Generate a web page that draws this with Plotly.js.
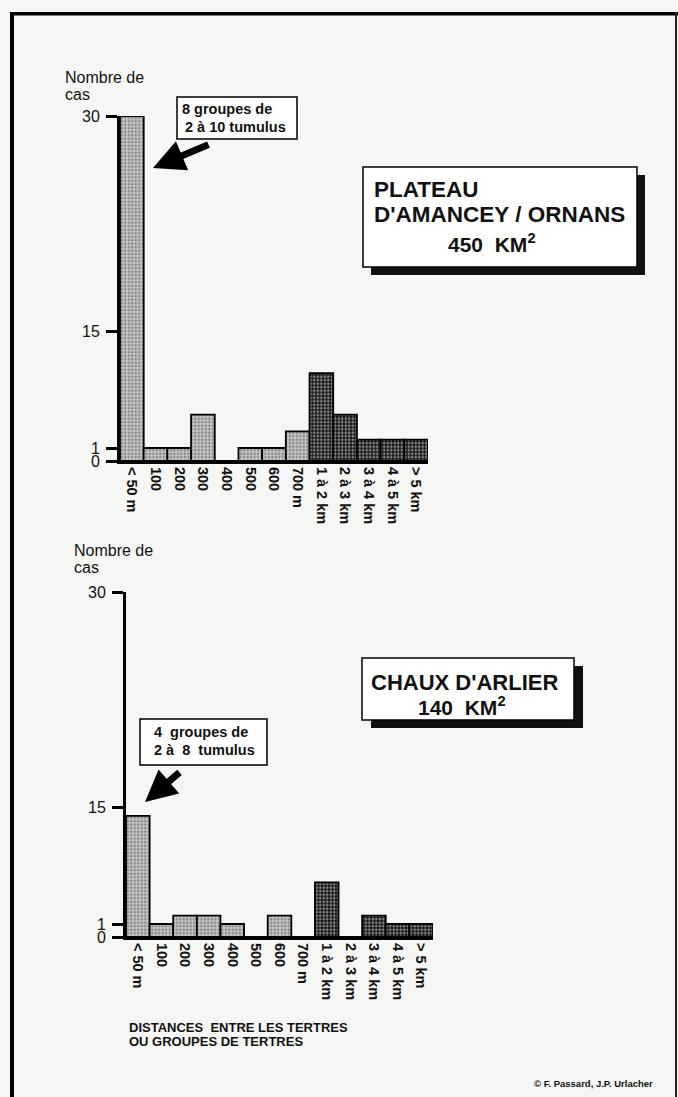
<!DOCTYPE html>
<html>
<head>
<meta charset="utf-8">
<script src="https://cdn.plot.ly/plotly-3.0.1.min.js"></script>
<style>html,body{margin:0;padding:0;background:#f6f6f4;}#chart{width:678px;height:1097px;}</style>
</head>
<body>
<div id="chart"></div>
<script>
// ---- data ----
const categories = ['< 50 m','100','200','300','400','500','600','700 m','1 à 2 km','2 à 3 km','3 à 4 km','4 à 5 km','> 5 km'];
const distanceUnit = ['m','m','m','m','m','m','m','m','km','km','km','km','km'];
const amanceyCounts = [30, 1, 1, 5, 0, 1, 1, 3, 10, 5, 2, 2, 2];
const chauxCounts   = [14, 1, 2, 2, 1, 0, 2, 0, 6, 0, 2, 1, 1];
const yTickValues = [0, 1, 15, 30];
const yTickLabels = ['0', '1', '15', '30'];

// ---- the original hand-drawn, broken y scale (0-1, 1-15, 15-30 drawn at different steps) ----
function scaleY(v){
  if (v <= 1) return 13 * v;
  if (v <= 15) return 13 + (v - 1) * 116.5 / 14;
  return 129.5 + (v - 15) * 215.5 / 15;
}
const yMax = scaleY(30);

const W = 678, H = 1097;
const px = x => x / W;
const py = y => 1 - y / H;
const F = 'Liberation Sans, Arial, Helvetica, sans-serif';

const lightBg = '#c6c6c6', lightFg = '#4a4a4a';
const darkBg = '#1a1a1a', darkFg = '#858585';

function barTrace(counts, xa, ya){
  return {
    type: 'bar',
    x: categories,
    y: counts.map(scaleY),
    customdata: counts,
    xaxis: xa, yaxis: ya,
    marker: {
      color: distanceUnit.map(u => u === 'm' ? lightBg : darkBg),
      line: {color: '#000', width: 1.8},
      pattern: {
        shape: '.',
        fillmode: 'overlay',
        fgcolor: distanceUnit.map(u => u === 'm' ? lightFg : darkFg),
        size: 3.5,
        solidity: 0.4
      }
    },
    hovertemplate: '%{x}: %{customdata}<extra></extra>',
    showlegend: false
  };
}

function xAxis(domain, anchor){
  return {
    domain: domain, anchor: anchor, type: 'category',
    range: [-0.5, 12.5],
    showline: true, linewidth: 3, linecolor: '#000',
    ticks: '', showgrid: false, zeroline: false,
    tickangle: 90,
    tickfont: {family: F, size: 14.5, color: '#111', weight: 'bold'}
  };
}
function yAxis(domain, anchor){
  return {
    domain: domain, anchor: anchor,
    range: [0, yMax],
    showline: true, linewidth: 3, linecolor: '#000',
    ticks: 'outside', ticklen: 11, tickwidth: 3, tickcolor: '#000',
    ticklabelstandoff: 3,
    tickvals: yTickValues.map(scaleY), ticktext: yTickLabels,
    tickfont: {family: F, size: 16, color: '#111'},
    showgrid: false, zeroline: false
  };
}

function label(x, baseline, text, size, bold, anchor){
  return {
    xref: 'paper', yref: 'paper',
    x: px(x), y: py(baseline - 0.36 * size),
    xanchor: anchor || 'left', yanchor: 'middle',
    text: text, showarrow: false, align: anchor === 'center' ? 'center' : 'left',
    font: {family: F, size: size, color: '#111', weight: bold ? 'bold' : 'normal'}
  };
}
function arrow(tipX, tipY, tailX, tailY){
  return {
    xref: 'paper', yref: 'paper', x: px(tipX), y: py(tipY),
    ax: tailX - tipX, ay: tailY - tipY, text: '',
    showarrow: true, arrowhead: 2, arrowsize: 0.9, arrowwidth: 7, arrowcolor: '#000'
  };
}
function rect(x0, y0, x1, y1, fill, lineW){
  return {
    type: 'rect', xref: 'paper', yref: 'paper',
    x0: px(x0), x1: px(x1), y0: py(y1), y1: py(y0),
    fillcolor: fill, line: {color: '#000', width: lineW}, layer: 'above'
  };
}

const shapes = [
  // page frame
  rect(10, 12, 14, 1097, '#000', 0),
  rect(10, 12, 678, 15.5, '#000', 0),
  rect(675, 12, 677, 1097, '#222', 0),
  // title box 1 with shadow
  rect(371, 175, 645, 275, '#111', 0),
  rect(363, 167, 637, 267, '#fff', 1.5),
  // title box 2 with shadow
  rect(371, 666, 583, 728, '#111', 0),
  rect(362, 658, 574, 720, '#fff', 1.5),
  // annotation boxes
  rect(177, 97, 297, 139, '#fff', 1.5),
  rect(140, 719, 267, 765, '#fff', 1.5)
];

const annotations = [
  label(63, 83, 'Nombre de', 16, false),
  label(63, 100, 'cas', 16, false),
  label(72, 556, 'Nombre de', 16, false),
  label(72, 573, 'cas', 16, false),

  label(372, 198, 'PLATEAU', 22.5, true),
  label(372, 223, "D'AMANCEY / ORNANS", 22.5, true),
  label(492, 251, '450  KM<sup>2</sup>', 21, true, 'center'),

  label(369, 690, "CHAUX D'ARLIER", 22, true),
  label(462, 714, '140  KM<sup>2</sup>', 21, true, 'center'),

  label(180, 114, '8 groupes de', 14.5, true),
  label(183, 132, '2 à 10 tumulus', 14.5, true),
  label(152, 737, '4  groupes de', 14.5, true),
  label(152, 755, '2 à  8  tumulus', 14.5, true),
  arrow(153, 168, 210, 144),
  arrow(145, 802, 181, 771),

  label(127, 1032, 'DISTANCES  ENTRE LES TERTRES', 13, true),
  label(127, 1046, 'OU GROUPES DE TERTRES', 13, true),
  label(532, 1087, '© F. Passard, J.P. Urlacher', 9.5, true)
];

const layout = {
  width: W, height: H,
  margin: {l: 0, r: 0, t: 0, b: 0},
  paper_bgcolor: '#f6f6f4', plot_bgcolor: 'rgba(0,0,0,0)',
  bargap: 0,
  showlegend: false,
  xaxis: xAxis([px(120), px(428)], 'y'),
  yaxis: yAxis([py(461), py(116)], 'x'),
  xaxis2: xAxis([px(126), px(433)], 'y2'),
  yaxis2: yAxis([py(937), py(592)], 'x2'),
  shapes: shapes,
  annotations: annotations
};

Plotly.newPlot('chart', [
  barTrace(amanceyCounts, 'x', 'y'),
  barTrace(chauxCounts, 'x2', 'y2')
], layout, {displayModeBar: false, staticPlot: true});
</script>
</body>
</html>
